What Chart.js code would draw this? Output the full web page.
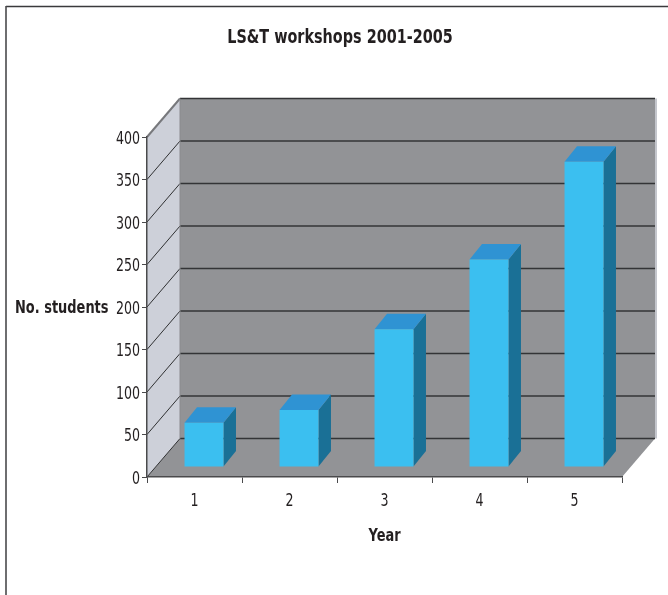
<!DOCTYPE html>
<html>
<head>
<meta charset="utf-8">
<title>LS&amp;T workshops 2001-2005</title>
<script src="https://cdn.jsdelivr.net/npm/chart.js@4"></script>
<style>
  body { margin: 0; background: #fff; }
  canvas { display: block; }
</style>
</head>
<body>
<canvas id="workshops" width="668" height="595"></canvas>
<script>
// Values
const years = ['1', '2', '3', '4', '5'];
const students = [52, 67, 162, 244, 359];
const chartTitle = 'LS&T workshops 2001-2005';
const xTitle = 'Year';
const yTitle = 'No. students';

const fontFamily = '"DejaVu Sans", sans-serif';
const depthX = 33;      // depth of the floor
const depthY = 38.5;
const barShift = 10;    // bars stand in the middle of the floor
const barDepthX = 12.5;
const barDepthY = 15.5;

const canvas = document.getElementById('workshops');
const context = canvas.getContext('2d');

// No narrow font installed, so text is condensed when drawn
const plainFillText = context.fillText;
context.fillText = function (text, x, y) {
  const squeeze = this.font.includes('bold') ? 0.72 : 0.7;
  const nudge = this.textAlign === 'right' ? 2 : 0;  // value tick labels sit a bit lower
  plainFillText.call(this, text, x, y + nudge, this.measureText(text).width * squeeze);
};

function poly(ctx, points, fill) {
  ctx.beginPath();
  points.forEach((p, i) => i ? ctx.lineTo(p[0], p[1]) : ctx.moveTo(p[0], p[1]));
  ctx.closePath();
  ctx.fillStyle = fill;
  ctx.fill();
}

function line(ctx, x1, y1, x2, y2, color, width) {
  ctx.beginPath();
  ctx.moveTo(x1, y1);
  ctx.lineTo(x2, y2);
  ctx.strokeStyle = color;
  ctx.lineWidth = width;
  ctx.stroke();
}

// Frame, walls and floor, drawn behind the axes
const walls = {
  id: 'walls',
  beforeDraw(chart) {
    const { ctx, chartArea: a, scales: { y } } = chart;
    const floorY = y.getPixelForValue(0);
    ctx.save();
    // page frame
    line(ctx, 6, 6.5, 668, 6.5, '#3a3a3c', 1.5);
    line(ctx, 6, 6, 6, 595, '#4a4a4c', 1.6);
    // thin light edge right of the back wall
    poly(ctx, [[a.right + depthX, a.top - depthY], [a.right + depthX + 2, a.top - depthY],
      [a.right + depthX + 2, floorY - depthY], [a.right + depthX, floorY - depthY]], '#c4c6cc');
    // back wall
    poly(ctx, [[a.left + depthX, a.top - depthY], [a.right + depthX, a.top - depthY],
      [a.right + depthX, floorY - depthY], [a.left + depthX, floorY - depthY]], '#929396');
    // side wall
    poly(ctx, [[a.left, a.top], [a.left + depthX, a.top - depthY],
      [a.left + depthX, floorY - depthY], [a.left, floorY]], '#cdd0d9');
    // floor
    poly(ctx, [[a.left, floorY], [a.left + depthX, floorY - depthY],
      [a.right + depthX, floorY - depthY], [a.right, floorY]], '#929396');
    // grid lines from the value scale
    y.ticks.forEach(t => {
      const py = y.getPixelForValue(t.value);
      const top = t.value === 400;
      line(ctx, a.left, py, a.left + depthX, py - depthY, top ? '#77787c' : '#2f3032', top ? 2 : 1);
      line(ctx, a.left + depthX, py - depthY, a.right + depthX, py - depthY, '#333436', 1.4);
    });
    line(ctx, a.left + depthX, a.top - depthY, a.left + depthX, floorY - depthY, '#8a8b8e', 1);
    // label of the value axis sits level, left of the ticks
    ctx.font = 'bold 18px ' + fontFamily;
    ctx.fillStyle = '#231f20';
    ctx.textAlign = 'left';
    ctx.textBaseline = 'middle';
    ctx.fillText(yTitle, 15, 308);
    ctx.restore();
  }
};

// Side and top of each bar; the front comes from the library, moved onto the floor
const barFaces = {
  id: 'barFaces',
  beforeDatasetDraw(chart, args) {
    const { ctx } = chart;
    ctx.save();
    ctx.translate(barShift - 0.5, -barShift);
    args.meta.data.forEach(bar => {
      const left = bar.x - bar.width / 2;
      const right = bar.x + bar.width / 2;
      poly(ctx, [[right, bar.y], [right + barDepthX, bar.y - barDepthY],
        [right + barDepthX, bar.base - barDepthY], [right, bar.base]], '#1a7096');
      poly(ctx, [[left, bar.y], [left + barDepthX, bar.y - barDepthY],
        [right + barDepthX, bar.y - barDepthY], [right, bar.y]], '#2f93d3');
    });
  },
  afterDatasetDraw(chart) {
    chart.ctx.restore();
  }
};

new Chart(canvas, {
  type: 'bar',
  data: {
    labels: years,
    datasets: [{
      data: students,
      backgroundColor: '#3bbff0',
      borderWidth: 0,
      barPercentage: 0.41,
      categoryPercentage: 1,
      clip: false
    }]
  },
  plugins: [walls, barFaces],
  options: {
    responsive: false,
    animation: false,
    layout: { padding: { left: 58, right: 46, top: 0, bottom: 48 } },
    plugins: {
      legend: { display: false },
      tooltip: { enabled: false },
      title: {
        display: true,
        text: chartTitle,
        color: '#231f20',
        font: { family: fontFamily, size: 20, weight: 'bold' },
        padding: { top: 26, bottom: 87 }
      }
    },
    scales: {
      x: {
        afterFit(s) { s.height = 70; },
        border: { color: '#4a4a4c', width: 1.5 },
        grid: { drawOnChartArea: false, drawTicks: true, tickLength: 6, color: '#4a4a4c' },
        ticks: { color: '#231f20', padding: 8, maxRotation: 0, font: { family: fontFamily, size: 18 } },
        title: {
          display: true,
          text: xTitle,
          color: '#231f20',
          padding: { top: 12, bottom: 0 },
          font: { family: fontFamily, size: 18, weight: 'bold' }
        }
      },
      y: {
        min: 0,
        max: 400,
        afterFit(s) { s.width = 89; },
        border: { color: '#4a4a4c', width: 1.5 },
        grid: { drawOnChartArea: false, drawTicks: true, tickLength: 5, color: '#4a4a4c' },
        ticks: { stepSize: 50, color: '#231f20', padding: 2, font: { family: fontFamily, size: 18 } }
      }
    }
  }
});
</script>
</body>
</html>
